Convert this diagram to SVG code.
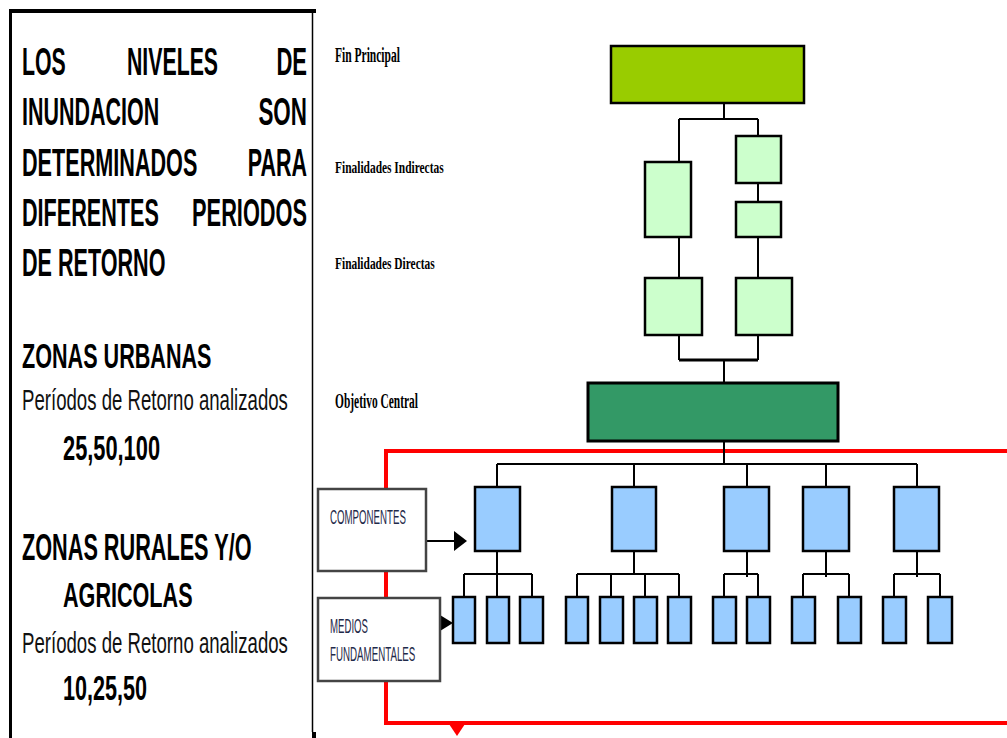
<svg xmlns="http://www.w3.org/2000/svg" width="1007" height="738" viewBox="0 0 1007 738">
<style>
.hb{font-family:"Liberation Sans",Arial,sans-serif;font-weight:bold;fill:#000}
.hr{font-family:"Liberation Sans",Arial,sans-serif;fill:#111}
.lbl{font-family:"Liberation Serif","Times New Roman",serif;font-weight:bold;fill:#000}
.cl{font-family:"Liberation Sans",Arial,sans-serif;fill:#1f2a4a;font-size:21px}
.k{stroke:#000;stroke-width:2;fill:none}
.kb{stroke:#000;stroke-width:3;fill:none}
.red{stroke:#ff0000;stroke-width:4;fill:none}
.lg{fill:#ccffcc;stroke:#000;stroke-width:2.5}
.bl{fill:#99ccff;stroke:#000;stroke-width:2.5}
.wb{fill:#fff;stroke:#444;stroke-width:2.5}
</style>
<rect width="1007" height="738" fill="#fff"/>

<!-- left panel -->
<g id="left-panel">
<path d="M10.5,13 V738" stroke="#000" stroke-width="3" fill="none"/>
<path d="M9,11 H316" stroke="#000" stroke-width="4" fill="none"/>
<path d="M312.5,13 V732" stroke="#000" stroke-width="1.5" fill="none"/>
<rect x="312" y="732" width="4" height="6" fill="#000"/>
<g class="hb" font-size="38">
<text transform="translate(22,75) scale(0.56,1)">LOS</text>
<text transform="translate(172.5,75) scale(0.56,1)" text-anchor="middle">NIVELES</text>
<text transform="translate(307,75) scale(0.58,1)" text-anchor="end">DE</text>
<text transform="translate(22,125) scale(0.565,1)">INUNDACION</text>
<text transform="translate(307,125) scale(0.59,1)" text-anchor="end">SON</text>
<text transform="translate(22,176) scale(0.569,1)">DETERMINADOS</text>
<text transform="translate(307,176) scale(0.566,1)" text-anchor="end">PARA</text>
<text transform="translate(22,226) scale(0.569,1)">DIFERENTES</text>
<text transform="translate(307,226) scale(0.573,1)" text-anchor="end">PERIODOS</text>
<text transform="translate(22,276) scale(0.568,1)">DE RETORNO</text>
</g>
<g class="hb" font-size="36">
<text transform="translate(22,368) scale(0.6,1)">ZONAS URBANAS</text>
<text transform="translate(63,460) scale(0.606,1)">25,50,100</text>
<text transform="translate(22,560) scale(0.602,1)">ZONAS RURALES Y/O</text>
<text transform="translate(63,607) scale(0.6,1)">AGRICOLAS</text>
<text transform="translate(63,700) scale(0.6,1)">10,25,50</text>
</g>
<g class="hr" font-size="29">
<text transform="translate(22,410) scale(0.642,1)">Períodos de Retorno analizados</text>
<text transform="translate(22,653) scale(0.642,1)">Períodos de Retorno analizados</text>
</g>
</g>

<!-- level labels -->
<g id="level-labels" class="lbl">
<text transform="translate(335,62) scale(0.576,1)" font-size="20">Fin Principal</text>
<text transform="translate(335,173) scale(0.673,1)" font-size="17">Finalidades Indirectas</text>
<text transform="translate(335,269) scale(0.672,1)" font-size="17">Finalidades Directas</text>
<text transform="translate(335,408) scale(0.573,1)" font-size="20">Objetivo Central</text>
</g>

<!-- connectors -->
<g id="connectors">
<!-- red frame -->
<path class="red" d="M1007,451 H386 V723 H1007"/>
<polygon points="449,724 465,724 457,736" fill="#ff0000"/>
<!-- top tree -->
<path class="k" d="M724,103 V119 M679,119 H758 M679,119 V162 M758,119 V136 M758,183 V202 M679,237 V278 M758,237 V278 M679,335 V360 M758,335 V360 M724,360 V383"/>
<path class="kb" d="M679,360 H758"/>
<path class="k" d="M724,441 V464 M497,464 H917 M497,464 V487 M634,464 V487 M747,464 V487 M826,464 V487 M917,464 V487"/>
<!-- sub trees -->
<path class="k" d="M497,551 V597 M464,574 H532 M464,574 V597 M532,574 V597"/>
<path class="k" d="M634,551 V574 M577,574 H679 M577,574 V597 M611,574 V597 M645,574 V597 M679,574 V597"/>
<path class="k" d="M747,551 V577 M724,574 H758 M724,574 V597 M758,574 V597"/>
<path class="k" d="M826,551 V577 M803,574 H849 M803,574 V597 M849,574 V597"/>
<path class="k" d="M917,551 V577 M894,574 H940 M894,574 V597 M940,574 V597"/>
<!-- label arrows -->
<path class="k" d="M426,541 H455"/>
<polygon points="454,531 467,541 454,551" fill="#000"/>
<polygon points="440,615 453,623 440,631" fill="#000"/>
</g>

<!-- nodes -->
<g id="fin-principal"><rect x="611" y="46" width="193" height="57" fill="#99cc00" stroke="#000" stroke-width="2.5"/></g>
<g id="fi-left"><rect class="lg" x="645" y="162" width="46" height="75"/></g>
<g id="fi-right-top"><rect class="lg" x="736" y="136" width="45" height="47"/></g>
<g id="fi-right-bottom"><rect class="lg" x="736" y="202" width="45" height="35"/></g>
<g id="fd-left"><rect class="lg" x="645" y="278" width="57" height="57"/></g>
<g id="fd-right"><rect class="lg" x="736" y="278" width="56" height="57"/></g>
<g id="objetivo-central"><rect x="588" y="383" width="250" height="58" fill="#339966" stroke="#000" stroke-width="3"/></g>

<g id="comp-1"><rect class="bl" x="475" y="487" width="45" height="64"/></g>
<g id="comp-2"><rect class="bl" x="612" y="487" width="44" height="64"/></g>
<g id="comp-3"><rect class="bl" x="724" y="487" width="45" height="64"/></g>
<g id="comp-4"><rect class="bl" x="803" y="487" width="46" height="64"/></g>
<g id="comp-5"><rect class="bl" x="894" y="487" width="45" height="64"/></g>

<g id="medio-1"><rect class="bl" x="453" y="597" width="22" height="46"/></g>
<g id="medio-2"><rect class="bl" x="487" y="597" width="22" height="46"/></g>
<g id="medio-3"><rect class="bl" x="520" y="597" width="23" height="46"/></g>
<g id="medio-4"><rect class="bl" x="566" y="597" width="22" height="46"/></g>
<g id="medio-5"><rect class="bl" x="600" y="597" width="23" height="46"/></g>
<g id="medio-6"><rect class="bl" x="634" y="597" width="23" height="46"/></g>
<g id="medio-7"><rect class="bl" x="668" y="597" width="23" height="46"/></g>
<g id="medio-8"><rect class="bl" x="713" y="597" width="23" height="46"/></g>
<g id="medio-9"><rect class="bl" x="747" y="597" width="23" height="46"/></g>
<g id="medio-10"><rect class="bl" x="792" y="597" width="23" height="46"/></g>
<g id="medio-11"><rect class="bl" x="838" y="597" width="23" height="46"/></g>
<g id="medio-12"><rect class="bl" x="883" y="597" width="23" height="46"/></g>
<g id="medio-13"><rect class="bl" x="928" y="597" width="24" height="46"/></g>

<g id="componentes-label">
<rect class="wb" x="318" y="489" width="108" height="82"/>
<text class="cl" transform="translate(330,524) scale(0.462,1)">COMPONENTES</text>
</g>
<g id="medios-label">
<rect class="wb" x="318" y="598" width="122" height="83"/>
<text class="cl" transform="translate(330,633) scale(0.459,1)">MEDIOS</text>
<text class="cl" transform="translate(330,661) scale(0.464,1)">FUNDAMENTALES</text>
</g>
</svg>
